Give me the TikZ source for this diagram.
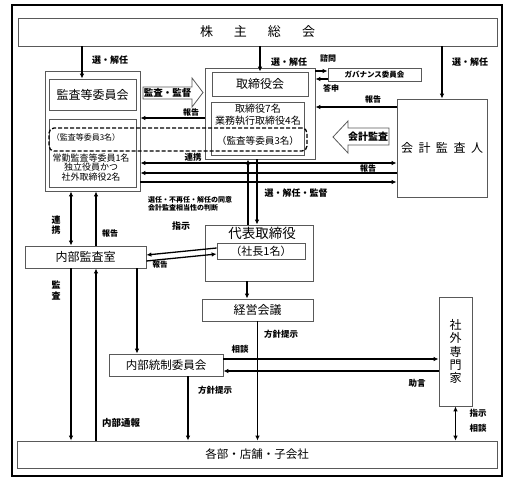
\documentclass[tikz,border=0pt]{standalone}
\usepackage{fontspec}
\setmainfont{Noto Sans CJK JP}
\usetikzlibrary{arrows.meta,calc}
\begin{document}
\begin{tikzpicture}[x=1pt,y=-1pt,
  box/.style={draw=black!65, line width=0.8pt, inner sep=0pt, fill=white},
  arr/.style={-{Latex[length=5pt,width=4.5pt]}, line width=1.3pt},
  darr/.style={{Latex[length=5pt,width=4.5pt]}-{Latex[length=5pt,width=4.5pt]}, line width=1.3pt},
  lbl/.style={font=\bfseries\fontsize{8.5}{10}\selectfont, inner sep=0pt},
  txt/.style={inner sep=0pt},
  hollow/.style={draw=black!65, line width=0.8pt, fill=white}
]
\useasboundingbox (0,0) rectangle (508,488);
\node[draw, line width=2.2pt, minimum width=490, minimum height=471, inner sep=0pt] (frame) at (257,240.5) {};

% boxes
\node[box, minimum width=479, minimum height=28, font=\fontsize{13}{14}\selectfont] (top) at (257.5,32)
  {株\hspace{21pt}主\hspace{21pt}総\hspace{21pt}会};
\node[box, minimum width=95, minimum height=120] (acgroup) at (92.5,131) {};
\node[box, minimum width=87, minimum height=31, font=\fontsize{12}{13}\selectfont] (acc) at (92.5,94.5) {監査等委員会};
\node[box, minimum width=87, minimum height=68] (acin) at (92.5,153) {};
\node[box, minimum width=110, minimum height=91] (bgroup) at (260,113.5) {};
\node[box, minimum width=96, minimum height=24, font=\fontsize{12}{13}\selectfont] (board) at (260,84) {取締役会};
\node[box, minimum width=93, minimum height=53] (bin) at (257.5,128.5) {};
\node[box, minimum width=93, minimum height=13, font=\bfseries\fontsize{7.5}{8}\selectfont] (gov) at (374.5,74.5) {ガバナンス委員会};
\node[box, minimum width=90, minimum height=98, font=\fontsize{12}{13}\selectfont] (auditor) at (442,148)
  {会\hspace{5.5pt}計\hspace{5.5pt}監\hspace{5.5pt}査\hspace{5.5pt}人};
\node[box, minimum width=108, minimum height=56] (ceo) at (259,253) {};
\node[txt, font=\fontsize{13.5}{14}\selectfont] (ceot) at (262,233) {代表取締役};
\node[box, minimum width=88, minimum height=16, font=\fontsize{11}{12}\selectfont] (pres) at (261,251) {（社長1名）};
\node[box, minimum width=111, minimum height=22, font=\fontsize{12}{13}\selectfont] (mgmt) at (257.5,310) {経営会議};
\node[box, minimum width=121, minimum height=22, font=\fontsize{12}{13}\selectfont] (ia) at (85.5,257) {内部監査室};
\node[box, minimum width=114, minimum height=22, font=\fontsize{11.5}{12}\selectfont] (icc) at (166,365) {内部統制委員会};
\node[box, minimum width=33, minimum height=109, align=center, font=\fontsize{12}{13.4}\selectfont] (expert) at (455.5,351.5)
  {社\\外\\専\\門\\家};
\node[box, minimum width=480, minimum height=27, font=\fontsize{11.5}{12}\selectfont] (bottom) at (257,454.5) {各部・店舗・子会社};

% texts inside inner boxes
\node[txt, font=\fontsize{8}{9}\selectfont] (l3a) at (86,137) {（監査等委員3名）};
\node[txt, align=center, font=\fontsize{9}{9.6}\selectfont] (l3b) at (91,167.5) {常勤監査等委員1名\\独立役員かつ\\社外取締役2名};
\node[txt, align=center, font=\fontsize{10}{12}\selectfont] (b7) at (258,115) {取締役7名\\業務執行取締役4名};
\node[txt, font=\fontsize{9.6}{10}\selectfont] (b3) at (258,140.5) {（監査等委員3名）};

% dashed group
\node[draw, line width=1.3pt, dash pattern=on 4pt off 2pt, rounded corners=5pt, minimum width=258, minimum height=23, inner sep=0pt] (dash) at (178,139.5) {};

% hollow arrows
\draw[hollow] (143,87) -- (192,87) -- (192,78) -- (203,92.5) -- (192,107) -- (192,99) -- (143,99) -- cycle;
\node[lbl, font=\bfseries\fontsize{9.5}{10}\selectfont] (kanshi) at (167.5,93) {監査・監督};
\draw[hollow] (389,128) -- (348,128) -- (348,121) -- (333,137) -- (348,153) -- (348,145) -- (389,145) -- cycle;
\node[lbl, font=\bfseries\fontsize{10}{11}\selectfont] (kaikei) at (368,136.5) {会計監査};

% helper coordinates
\coordinate (xA) at (82,0);
\coordinate (xB) at (248,0);
\coordinate (xC) at (257,0);
\coordinate (xD) at (247,0);
\coordinate (xE) at (71,0);
\coordinate (xF) at (96,0);
\coordinate (xG) at (137,0);
\coordinate (xH) at (188,0);
\coordinate (yA) at (0,71);
\coordinate (yB) at (0,79);
\coordinate (yC) at (0,107);
\coordinate (yD) at (0,118);
\coordinate (yE) at (0,163);
\coordinate (yF) at (0,173);
\coordinate (yG) at (0,182);
\coordinate (yH) at (0,359);
\coordinate (yI) at (0,371);

% connectors
\draw[arr] (top.south -| xA) -- (acc.north -| xA);
\draw[arr] (top.south -| board.north) -- (board.north);
\draw[arr] (top.south -| auditor.north) -- (auditor.north);
\draw[arr] (bgroup.east |- yA) -- (gov.west |- yA);
\draw[arr] (gov.west |- yB) -- (bgroup.east |- yB);
\draw[arr] (auditor.west |- yC) -- (bgroup.east |- yC);
\draw[arr] (bgroup.west |- yD) -- (acgroup.east |- yD);
\draw[darr] (acgroup.east |- yE) -- (auditor.west |- yE);
\draw[arr] (auditor.west |- yF) -- (acgroup.east |- yF);
\draw[arr] (acgroup.east |- yG) -- (auditor.west |- yG);
\draw[arr] (ceo.north -| xB) -- (bgroup.south -| xB);
\draw[arr] (bgroup.south -| xC) -- (ceo.north -| xC);
\draw[arr] ($(pres.west)+(0,-3)$) -- ($(ia.east)+(0,-2)$);
\draw[arr] ($(ia.east)+(0,4)$) -- ($(pres.west)+(0,3)$);
\draw[arr] (ceo.south -| xD) -- (mgmt.north -| xD);
\draw[arr] (mgmt.south) -- (bottom.north -| mgmt.south);
\draw[arr] (icc.east |- yH) -- (expert.west |- yH);
\draw[arr] (expert.west |- yI) -- (icc.east |- yI);
\draw[arr] (icc.south -| xH) -- (bottom.north -| xH);
\draw[darr] (expert.south) -- (bottom.north -| expert.south);
\draw[darr] (acgroup.south -| xE) -- (ia.north -| xE);
\draw[arr] (ia.north -| xF) -- (acgroup.south -| xF);
\draw[arr] (ia.south -| xE) -- (bottom.north -| xE);
\draw[arr] (bottom.north -| xF) -- (ia.south -| xF);
\draw[arr] (ia.south -| xG) -- (icc.north -| xG);

% labels
\node[lbl, font=\bfseries\fontsize{9}{10}\selectfont] (s1) at (110,60) {選・解任};
\node[lbl, font=\bfseries\fontsize{9}{10}\selectfont] (s2) at (289,62) {選・解任};
\node[lbl, font=\bfseries\fontsize{9}{10}\selectfont] (s3) at (470,62) {選・解任};
\node[lbl, font=\bfseries\fontsize{8}{9}\selectfont] (shimon) at (328,58) {諮問};
\node[lbl, font=\bfseries\fontsize{8}{9}\selectfont] (toshin) at (331,88) {答申};
\node[lbl, font=\bfseries\fontsize{8}{9}\selectfont] (h1) at (373,99) {報告};
\node[lbl, font=\bfseries\fontsize{8}{9}\selectfont] (h2) at (191,112.5) {報告};
\node[lbl] (r1) at (193,157.5) {連携};
\node[lbl, font=\bfseries\fontsize{8}{9}\selectfont] (h3) at (368,168) {報告};
\node[lbl, font=\bfseries\fontsize{9}{10}\selectfont] (s4) at (296,193) {選・解任・監督};
\node[lbl, align=left, anchor=west, font=\bfseries\fontsize{7}{7.5}\selectfont] (doi) at (148,204)
  {選任・不再任・解任の同意\\会計監査相当性の判断};
\node[lbl, font=\bfseries\fontsize{9}{10}\selectfont] (shiji1) at (181,226) {指示};
\node[lbl, align=center, font=\bfseries\fontsize{9}{10}\selectfont] (r2) at (56,225) {連\\携};
\node[lbl, font=\bfseries\fontsize{8}{9}\selectfont] (h4) at (110,233) {報告};
\node[lbl, font=\bfseries\fontsize{7.5}{9}\selectfont] (h5) at (160,265) {報告};
\node[lbl, align=center, font=\bfseries\fontsize{9}{10.5}\selectfont] (kansa) at (56,290.5) {監\\査};
\node[lbl] (hs1) at (281,334) {方針提示};
\node[lbl] (so1) at (240,349) {相談};
\node[lbl] (jo) at (417,383) {助言};
\node[lbl] (hs2) at (215,390) {方針提示};
\node[lbl, font=\bfseries\fontsize{9.5}{10}\selectfont] (tsuho) at (121,423) {内部通報};
\node[lbl] (shiji2) at (478,413) {指示};
\node[lbl] (so2) at (478,428) {相談};
\end{tikzpicture}
\end{document}
